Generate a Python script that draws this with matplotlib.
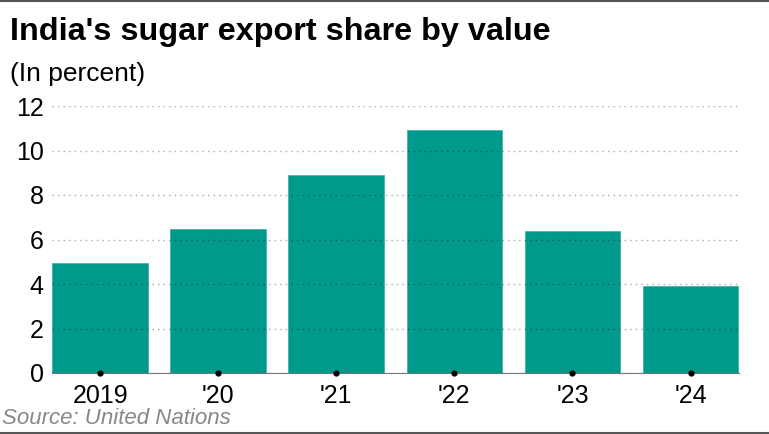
import matplotlib.pyplot as plt
import numpy as np

plt.rcParams['font.family'] = ['Liberation Sans', 'DejaVu Sans']

years = ["2019", "'20", "'21", "'22", "'23", "'24"]
share = [4.95, 6.45, 8.9, 10.9, 6.38, 3.92]
yticks = [0, 2, 4, 6, 8, 10, 12]

fig = plt.figure(figsize=(7.69, 4.34), dpi=100)
ax = fig.add_axes([52/769, 1 - 373/434, 687/769, 267/434])

x = np.arange(len(years))
ax.bar(x, share, width=0.81, color='#009a8c', edgecolor='#3bb5aa', linewidth=0.6, zorder=2)
ax.scatter(x, np.zeros(len(x)), s=12, color='black', zorder=4, clip_on=False)

ax.set_xlim(-0.407, 5.41)
ax.set_ylim(0, 12)
ax.set_yticks(yticks)
ax.set_xticks(x)
ax.set_xticklabels(years)
ax.tick_params(axis='both', length=0, labelsize=18, colors='black')
ax.tick_params(axis='x', pad=8)
ax.tick_params(axis='y', pad=6)

ax.grid(axis='y', linestyle=(0, (1, 3)), color='black', alpha=0.35, linewidth=1, zorder=3)
ax.set_axisbelow(False)
for side in ['top', 'right', 'left']:
    ax.spines[side].set_visible(False)
ax.spines['bottom'].set_color('#777777')
ax.spines['bottom'].set_zorder(3)

fig.text(10/769, 1 - 32/434, "India's sugar export share by value", fontsize=23.3,
         fontweight='bold', va='center', ha='left')
fig.text(10/769, 1 - 74/434, "(In percent)", fontsize=19, va='center', ha='left')
fig.text(2/769, 1 - 419/434, "Source: United Nations", fontsize=16, style='italic',
         color='#888888', va='center', ha='left')

fig.add_artist(plt.Line2D([0, 1], [0.998, 0.998], color='#555555', linewidth=1.5))
fig.add_artist(plt.Line2D([0, 1], [0.002, 0.002], color='#555555', linewidth=1.5))

fig.savefig('out.png', dpi=100)
